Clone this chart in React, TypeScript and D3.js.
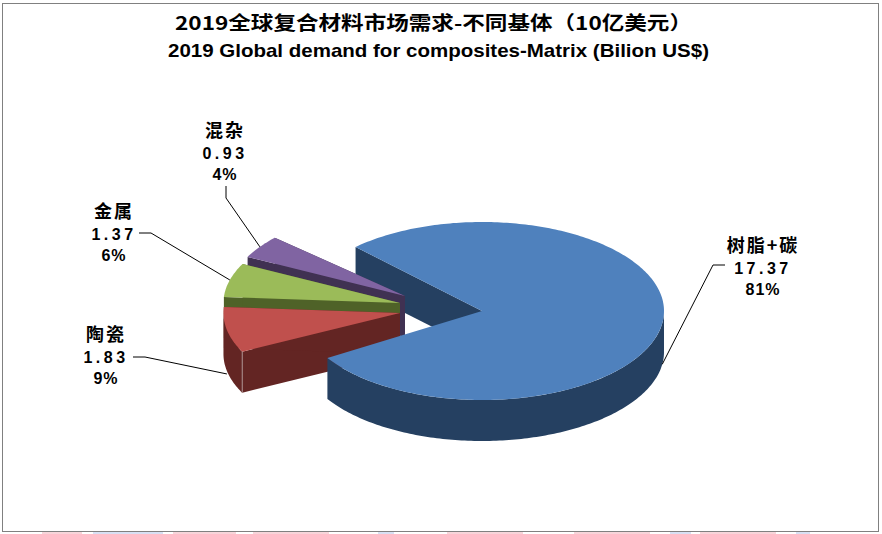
import * as d3 from 'd3'

const titleCn = '2019全球复合材料市场需求-不同基体（10亿美元）'
const titleEn = '2019 Global demand for composites-Matrix (Bilion US$)'

const categories = ['树脂+碳', '陶瓷', '金属', '混杂']
const values = [17.37, 1.83, 1.37, 0.93]

const topColors = ['#4F81BD', '#C0504D', '#9BBB59', '#8064A2']
const sideColors = ['#254061', '#632523', '#4F6228', '#403152']

// pie centre and radii as seen on screen
const cx = 482
const cy = 311
const rx = 182
const ry = 89
const depth = 41
const startDeg = 312.5

// slice layout, same order as categories
const explodeX = [0, -82, -82, -77]
const explodeY = [0, 2, -8, -15]
const radiusScale = [1, 0.97, 0.97, 0.97]
const leaderOnRim = [depth, depth + 3, 0, 0]
const labelX = [763, 106, 114, 225]
const labelY = [246, 335, 212, 131]
const leaderElbows: [number, number][][] = [
  [[725, 265], [713, 265]],
  [[133, 357], [145, 357]],
  [[139, 233], [151, 233]],
  [[226, 186], [226, 198]],
]

// the original's perspective pinches the big slice a little at both cut edges
const bigSliceTrimStart = 3.5
const bigSliceTrimEnd = 5.2

// faint bits of another picture showing under the frame
const stripPink = [[42, 40], [173, 63], [253, 76], [447, 76], [574, 76], [700, 76]]
const stripBlue = [[93, 70], [378, 16], [670, 21], [796, 14]]

const rad = (deg: number) => (deg * Math.PI) / 180

const pie = d3
  .pie<number>()
  .sort(null)
  .startAngle(rad(startDeg))
  .endAngle(rad(startDeg) + 2 * Math.PI)

const arcs = pie(values)
const midAngles = arcs.map((a) => (a.startAngle + a.endAngle) / 2)
arcs[0].startAngle += rad(bigSliceTrimStart)
arcs[0].endAngle -= rad(bigSliceTrimEnd)

const pct = d3.format('.0%')
const total = d3.sum(values)
const toPath = d3.line()

function project(i: number, angle: number, dz = 0): [number, number] {
  const k = radiusScale[i]
  return [
    cx + explodeX[i] + rx * k * Math.sin(angle),
    cy + explodeY[i] - ry * k * Math.cos(angle) + dz,
  ]
}

function rimPoints(i: number, a0: number, a1: number, dz = 0) {
  const n = Math.max(2, Math.ceil(((a1 - a0) * 180) / Math.PI))
  return d3.range(n + 1).map((s) => project(i, a0 + ((a1 - a0) * s) / n, dz))
}

function topPath(i: number) {
  const apex: [number, number] = [cx + explodeX[i], cy + explodeY[i]]
  return toPath([apex, ...rimPoints(i, arcs[i].startAngle, arcs[i].endAngle)])! + 'Z'
}

function wallPath(i: number, angle: number) {
  const ax = cx + explodeX[i]
  const ay = cy + explodeY[i]
  const corner = project(i, angle)
  return toPath([[ax, ay], corner, [corner[0], corner[1] + depth], [ax, ay + depth]])! + 'Z'
}

// outer wall: only the part of the rim facing the viewer (cos < 0)
function rimPath(i: number) {
  const two = 2 * Math.PI
  const { startAngle: s, endAngle: e } = arcs[i]
  const parts: string[] = []
  for (const k of [0, 1, 2]) {
    const a0 = Math.max(s, Math.PI / 2 + k * two)
    const a1 = Math.min(e, (3 * Math.PI) / 2 + k * two)
    if (a1 <= a0) continue
    const up = rimPoints(i, a0, a1)
    const down = rimPoints(i, a0, a1, depth).reverse()
    parts.push(toPath([...up, ...down])! + 'Z')
  }
  return parts.join('')
}

function Slice({ i }: { i: number }) {
  return (
    <g>
      <path d={wallPath(i, arcs[i].startAngle)} fill={sideColors[i]} />
      <path d={wallPath(i, arcs[i].endAngle)} fill={sideColors[i]} />
      <path d={rimPath(i)} fill={sideColors[i]} />
      <path d={topPath(i)} fill={topColors[i]} />
    </g>
  )
}

export default function App() {
  const latin = '"Liberation Sans", "Noto Sans CJK SC", sans-serif'
  const cjk = '"Noto Sans CJK SC", "Liberation Sans", sans-serif'
  const redCorner = project(1, arcs[1].startAngle)
  return (
    <svg
      width={882}
      height={534}
      style={{ position: 'absolute', left: 0, top: 0, background: '#fff' }}
    >
      {stripPink.map(([x, w]) => (
        <rect key={x} x={x} y={531} width={w} height={3} fill="#F7D5DA" />
      ))}
      {stripBlue.map(([x, w]) => (
        <rect key={x} x={x} y={531} width={w} height={3} fill="#D8E0F4" />
      ))}
      <rect x={2.5} y={3.5} width={876} height={528} fill="#fff" stroke="#808080" />

      <text
        x={175}
        y={30}
        textLength={517}
        lengthAdjust="spacingAndGlyphs"
        fontSize={19}
        fontWeight="bold"
        fontFamily={cjk}
      >
        {titleCn}
      </text>
      <text
        x={168}
        y={57}
        textLength={541}
        lengthAdjust="spacingAndGlyphs"
        fontSize={18.5}
        fontWeight="bold"
        fontFamily={latin}
      >
        {titleEn}
      </text>

      {/* painter's order: the notch wall of the big slice goes behind the small ones */}
      <path d={wallPath(0, arcs[0].startAngle)} fill={sideColors[0]} />
      <Slice i={3} />
      <Slice i={2} />
      <Slice i={1} />
      <line
        x1={redCorner[0]}
        y1={redCorner[1]}
        x2={redCorner[0]}
        y2={redCorner[1] + depth}
        stroke="#A88C8C"
        strokeWidth={1}
      />
      <path d={rimPath(0)} fill={sideColors[0]} />
      <path d={topPath(0)} fill={topColors[0]} />

      {categories.map((name, i) => {
        const end = project(i, midAngles[i], leaderOnRim[i])
        return (
          <g key={name}>
            <path d={toPath([...leaderElbows[i], end])!} fill="none" stroke="#000" strokeWidth={1} />
            <g textAnchor="middle" fontSize={16} fontWeight="bold" fontFamily={latin} fill="#000">
              <text x={labelX[i]} y={labelY[i] + 6} fontSize={18} fontFamily={cjk} letterSpacing={2}>
                {name}
              </text>
              <text x={labelX[i]} y={labelY[i] + 28} letterSpacing={3.5}>
                {values[i].toFixed(2)}
              </text>
              <text x={labelX[i]} y={labelY[i] + 49} letterSpacing={1}>
                {pct(values[i] / total)}
              </text>
            </g>
          </g>
        )
      })}
    </svg>
  )
}
